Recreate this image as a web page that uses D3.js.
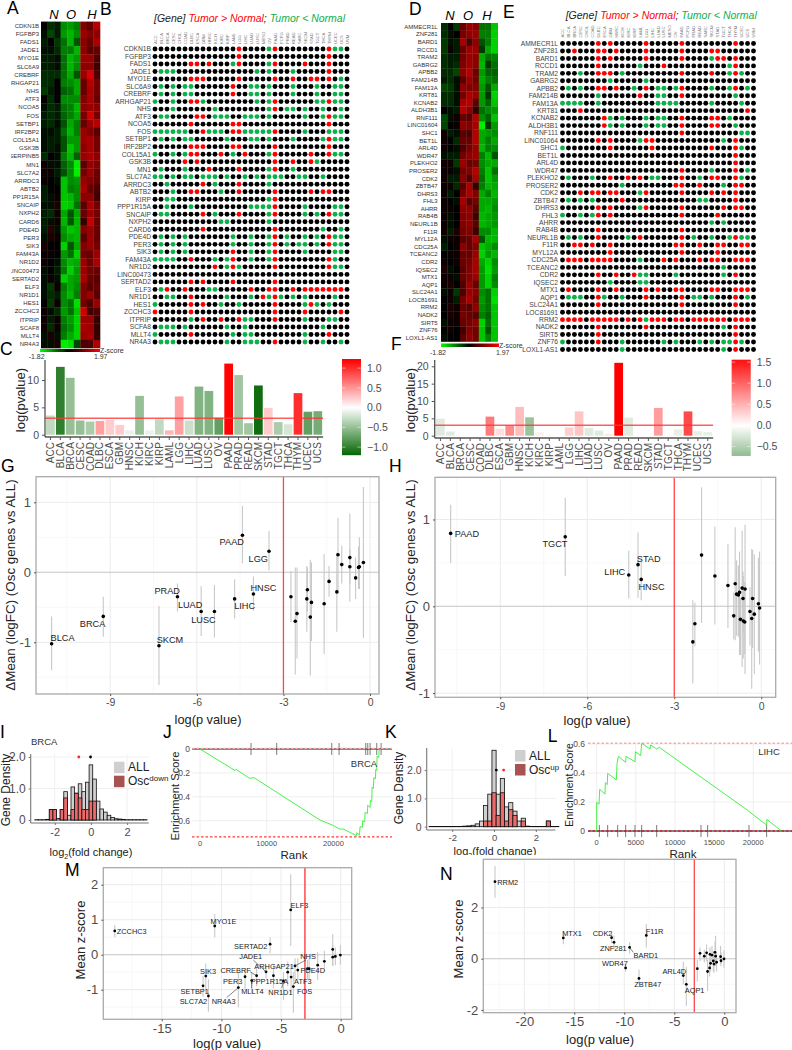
<!DOCTYPE html>
<html><head><meta charset="utf-8">
<script src="https://cdn.jsdelivr.net/npm/d3@7"></script>
<style>
html,body{margin:0;padding:0;background:#fff}
svg{display:block}
text{font-family:"Liberation Sans",Arial,sans-serif}
</style></head><body>
<svg id="c" width="792" height="1050"></svg>
<script>
// ---------- DATA ----------
const genesA=["CDKN1B","FGFBP3","FADS1","JADE1","MYO1E","SLC6A9","CREBRF","ARHGAP21","NHS","ATF3","NCOA5","FOS","SETBP1","IRF2BP2","COL15A1","GSK3B","SERPINB5","MN1","SLC7A2","ARRDC3","ABTB2","PP1R15A","SNCAIP","NXPH2","CARD6","PDE4D","PER3","SIK3","FAM43A","NR1D2","LINC00473","SERTAD2","ELF3","NR1D1","HES1","ZCCHC3","ITPRIP","SCAF8","MLLT4","NR4A3"];
// z-score x10, columns N N N O O O H H H
const heatA=[[0,-3,-2,-10,-11,-9,10,7,14],[-1,-5,-2,-11,-13,-10,12,10,11],[-2,0,-4,-8,-13,-6,11,8,13],[-1,-1,-3,-9,-9,-13,11,7,8],[-2,-2,-1,-8,-13,-11,12,12,6],[-2,-2,-1,-8,-13,-10,11,11,5],[-3,-3,-3,-8,-12,-6,12,17,6],[-3,-3,0,-9,-10,-12,8,14,9],[-4,-2,0,-7,-8,-12,8,13,9],[0,-3,0,-10,-10,-10,10,13,8],[-1,-3,-2,-8,-9,-13,11,12,11],[-2,-3,-2,-7,-9,-12,9,16,9],[-2,-3,-1,-6,-12,-9,8,12,14],[-1,-1,-2,-8,-13,-9,12,10,7],[-1,-2,-2,-6,-11,-11,12,13,9],[-1,-2,-1,-6,-14,-11,11,13,9],[-3,0,-1,-9,-13,-7,12,13,11],[1,-1,-1,-7,-10,-17,7,12,10],[1,1,-2,-6,-10,-17,9,12,8],[1,0,-1,-14,-10,-11,12,10,8],[-2,0,0,-14,-9,-10,13,8,6],[-2,-1,1,-14,-13,-10,11,11,5],[-1,-1,2,-15,-14,-8,7,13,9],[-2,-3,1,-12,-6,-12,8,12,9],[-2,-1,1,-13,-6,-13,4,15,8],[-2,3,-1,-11,-14,-13,10,12,8],[-1,2,1,-10,-12,-13,7,12,8],[2,0,0,-15,-6,-12,10,12,9],[1,1,0,-11,-8,-15,9,8,12],[1,0,-1,-10,-13,-12,12,8,13],[-1,0,-2,-9,-15,-11,12,9,8],[-1,1,-1,-15,-12,-11,13,8,7],[-1,-4,1,-9,-12,-10,10,7,8],[-1,-3,-2,-10,-13,-9,10,12,7],[0,-4,1,-10,-8,-16,9,6,12],[1,-1,-3,-11,-8,-14,16,5,6],[1,-2,1,-9,-11,-15,12,12,4],[1,-3,1,-8,-10,-15,13,12,4],[-1,2,-1,-9,-12,-15,12,13,4],[-1,-1,2,-17,-16,-5,6,6,13]];
const genesD=["AMMECR1L","ZNF281","BARD1","RCCD1","TRAM2","GABRG2","APBB2","FAM214B","FAM13A","KRT81","KCNAB2","ALDH3B1","RNF111","LINC01604","SHC1","BET1L","ARL4D","WDR47","PLEKHO2","PROSER2","CDK2","ZBTB47","DHRS3","FHL3","AHRR","RAB4B","NEURL1B","F11R","MYL12A","CDC25A","TCEANC2","CDR2","IQSEC2","MTX1","AQP1","SLC24A1","LOC81691","RRM2","NADK2","SIRT5","ZNF76","LOXL1-AS1"];
const heatD=[[-3,0,-4,8,12,11,-8,-8,-14],[-3,-1,0,9,11,12,-9,-9,-15],[-4,-1,-2,13,6,11,-6,-9,-15],[-4,1,-2,8,12,12,-4,-12,-15],[-3,-2,-2,9,12,11,-12,-8,-9],[-3,-2,-3,10,12,11,-13,-4,-8],[-3,-3,-5,11,14,8,-11,-7,-7],[-2,-3,-1,7,12,9,-12,-9,-8],[-5,-4,-1,11,10,10,-11,-6,-12],[-3,-3,-1,9,13,12,-11,-4,-15],[-3,-3,-1,13,14,7,-11,-7,-14],[0,-1,-2,14,11,4,-8,-10,-11],[-5,-1,1,8,7,14,-10,-7,-14],[-5,0,1,11,10,13,-17,-4,-11],[1,-2,-1,7,6,14,-12,-11,-10],[1,0,-3,8,8,14,-12,-9,-12],[1,0,-1,6,9,12,-13,-9,-10],[-1,-2,-2,9,11,12,-9,-13,-6],[1,1,-4,12,8,9,-10,-12,-12],[1,1,-1,9,10,14,-9,-14,-8],[1,-2,-2,11,6,13,-8,-14,-11],[1,1,-3,7,13,4,-9,-13,-12],[1,-2,0,9,13,10,-12,-9,-13],[1,0,-1,13,7,9,-12,-12,-11],[1,1,0,11,11,7,-12,-13,-10],[1,-1,0,10,11,5,-13,-12,-11],[1,-1,0,10,11,7,-13,-12,-11],[1,-2,2,9,10,5,-10,-10,-13],[-1,1,1,7,8,13,-6,-13,-13],[-2,0,1,11,8,10,-14,-12,-10],[0,1,1,8,8,12,-15,-11,-13],[1,0,1,8,9,13,-12,-15,-10],[2,-1,0,7,10,13,-11,-16,-11],[1,1,-1,8,10,12,-11,-15,-9],[1,2,0,6,12,8,-11,-15,-10],[-1,1,-4,6,12,11,-10,-8,-15],[0,1,-2,9,13,9,-11,-8,-16],[0,2,1,8,7,11,-10,-8,-14],[0,2,1,9,8,7,-9,-7,-14],[-1,1,1,8,9,11,-15,-8,-14],[0,1,0,5,10,9,-14,-6,-14],[-1,0,0,7,11,9,-14,-9,-14]];
const dotCols=["ACC","BLCA","BRCA","CESC","CHOL","COAD","DLBC","ESCA","GBM","HNSC","KICH","KIRC","KIRP","LAML","LGG","LIHC","LUAD","LUSC","MESO","OV","PAAD","PCPG","PRAD","READ","SARC","SKCM","STAD","TGCT","THCA","THYM","UCEC","UCS","UVM"];
const dotGenesB=["CDKN1B","FGFBP3","FADS1","JADE1","MYO1E","SLC6A9","CREBRF","ARHGAP21","NHS","ATF3","NCOA5","FOS","SETBP1","IRF2BP2","COL15A1","GSK3B","MN1","SLC7A2","ARRDC3","ABTB2","KIRP","PPP1R15A","SNCAIP","NXPH2","CARD6","PDE4D","PER3","SIK3","FAM43A","NR1D2","LINC00473","SERTAD2","ELF3","NR1D1","HES1","ZCCHC3","ITPRIP","SCFA8","MLLT4","NR4A3"];
const redB=[[14,20,29],[14,29],[6,7,9,14,20,25,29],[29],[6,7,8,14,20,23,26,27,29],[13],[13],[6,7,20,29],[20],[7,8,29],[6,13,14,29],[8,13,14,20],[29],[6,7,8,13,14,20,29],[6,7,11,15,20,26,29],[5,7,20,23,26],[9,14,20],[],[8,14],[6,7,14,20,26,28,29],[20],[20],[8,14,20,29],[],[8,20],[20,29],[20,29],[13,20],[6,13,20,29],[10,13,20,29],[],[6,8,13,20],[2,5,16,19,20,23,25,26,27,28,29,30,31],[6,18,20],[6,8,20,26],[0,6,20,25,31],[8,11,14,20],[],[6,29],[20]];
const greenB=[[19,30,31],[],[13,19],[1,2,3,17,19,23],[31],[1,3,5,6,16,17,19,23,27,30,31],[1,3,5,6,16,17,19,23,27,30,31],[0,3,8,17,19,27,28,30,31],[3,10,19,22,23,25,28,31],[1,2,10,11,12,15,16,17,19,25,28,30,31],[],[0,1,2,3,4,5,9,10,11,15,16,17,18,19,25,29,30,31],[1,3,5,6,12,16,17,19,23,28,30,31],[],[0,3,5,13,19,30,31],[27],[1,5,19,23],[0,1,3,5,6,8,9,10,12,15,17,19,20,21,24,25,28],[2,10,19],[3,11],[2,3,19],[2,6,16,17,18,19,25,30,31],[1,2,10,19,25,27,30,31],[11,12,19],[28,31],[1,3,5,13,16,19,22,25,27,30,31],[1,3,5,13,16,19,22,24,25,27,30,31],[1,3,5,16,19,25,30,31],[0,1,2,3,10,12,16,19,30],[12,14,30,31],[],[],[1,9,10],[2,3,12,16,19,21,23,25,30],[0,11,14,25,27,29],[],[6,15,16,25,29,30],[1,2,3,5,12,15,28],[0,13,15,16,25],[1,2,3,12,15,16,17,25,28,31]];
const dotGenesE=genesD.map(g=>g==="LINC01604"?"LINC01064":g);
const redE=[[6,8,14,20,29],[2,6,7,9,14,20,25,26],[6,8,14,20,26,27,29],[6,17,29],[6,7,8,20,25,29],[],[6,7,9,14,20,29],[13,20],[],[3,31],[7,20,25,26],[7,20,25,26],[20],[6,8,14,15,29],[8,15,25,29],[29],[29],[20,29],[8,11,13,20,25,26,29],[19,20,23,29,30],[3,5,6,8,9,14,20,25,27,29],[10,29],[6,8,14,20,27,29,30],[6,8,20,26],[],[6,20],[6,13,20,29],[2,3,5,8,19,20,23,26,27,30,31],[8,20,26],[1,2,3,5,6,7,8,17,19,23,25,26,29,30,31],[],[6,9,12,29],[],[1,6,9,14,16,19,20,25,26,29,30,31],[6,14,20,29],[6,20,29],[],[0,1,2,3,5,6,7,8,9,11,13,15,16,17,19,20,22,23,24,25,26,27,29,30,31],[6,14,29],[6,29],[6,29],[29]];
const greenE=[[],[],[25],[13,28],[3,10,28,30],[8,14],[1,3,12,16,17,19,25,28,31],[6,16,17,29],[0,1,2,3,6,16,17,18,19,25,30],[],[8,10,14,16,17,28],[8,10,14,16,17,29],[30,31],[13,27],[0,30],[],[],[25,31],[1,5,15,16,23,30],[10,27],[13],[1,3,5,23,24],[13],[0,3,5],[25,27],[],[1,3,11,22,25,28,30,31],[],[],[13],[27],[13,14,19,27],[8,13,14],[],[1,2,3,7,10,22,23,25,31],[],[],[14],[27],[],[0,10,17,19,23,25,27,28,30],[10,27]];

const barCats=["ACC","BLCA","BRCA","CESC","COAD","DLBC","ESCA","GBM","HNSC","KICH","KIRC","KIRP","LAML","LGG","LIHC","LUAD","LUSC","OV","PAAD","PRAD","READ","SKCM","STAD","TGCT","THCA","THYM","UCEC","UCS"];
const barC=[3.5,12.4,10.4,2.6,2.4,2.5,2.7,1.8,.8,7.1,.8,2.8,.8,7,2.6,8.8,8,3.1,13,10.9,2.1,9,4.9,2.3,1.9,7.6,4.2,4.3];
const fillC=[-.3,-1,-.5,-.5,-.4,.45,.25,.25,-.1,-.5,-.1,-.3,.35,.45,-.25,-.6,-.6,-.75,1.2,-.45,-.45,-1.15,.25,-.4,-.2,1,-.75,-.65];
const barF=[4.9,1.2,.3,.2,.2,5.5,2,3,8.3,5.3,1,.3,.2,2.4,7,2.2,1.5,.5,21,5.2,.2,.2,8,.3,1.8,7,1.3,1.1];
const fillF=[-.2,-.2,.05,0,0,.8,.2,.7,.4,-.6,.1,.05,0,.3,.35,-.2,-.2,.15,1.55,-.2,.05,0,.6,.05,-.15,1.1,-.15,-.15];

// name, log p, mean, low, high
const rowsG=[["BLCA",-11.03,-1.02,-1.40,-.63],["BRCA",-9.24,-.63,-.92,-.35],["SKCM",-7.31,-1.05,-1.61,-.48],["PRAD",-6.67,-.35,-.56,-.16],["LUAD",-5.85,-.56,-.91,-.20],["LUSC",-5.39,-.56,-.93,-.18],["LIHC",-4.69,-.38,-.66,-.10],["PAAD",-4.42,.53,.13,.95],["HNSC",-4.04,-.31,-.55,-.06],["LGG",-3.5,.30,.03,.59],["",-2.74,-.35,-.71,.02],["",-2.59,-.70,-1.46,.07],["",-2.53,-.59,-1.23,.07],["",-2.19,-.38,-.85,.09],["",-2.17,-.25,-.56,.07],["",-2.07,-.64,-1.48,.18],["",-2.03,-.43,-.98,.14],["",-1.59,-.45,-1.17,.26],["",-1.42,-.13,-.35,.09],["",-1.15,-.28,-.85,.28],["",-1.11,.25,-.30,.78],["",-.98,.11,-.16,.38],["",-.70,.08,-.42,.33],["",-.70,.21,-.17,.84],["",-.50,-.08,-.38,.21],["",-.40,.07,-.24,.37],["",-.37,.08,-.24,.50],["",-.23,.14,-.94,1.22]];
const rowsH=[["PAAD",-10.71,.84,.50,1.17],["TGCT",-6.76,.80,.35,1.25],["LIHC",-4.57,.36,.09,.64],["STAD",-4.25,.48,.10,.85],["HNSC",-4.14,.31,.07,.56],["",-2.36,-.41,-.89,.07],["",-2.29,-.20,-.46,.04],["",-2.06,.59,-.19,1.37],["",-1.60,.35,-.21,.92],["",-1.15,.24,-.25,.72],["",-.95,-.11,-.38,.16],["",-.90,.26,-.39,.91],["",-.85,.14,-.34,.53],["",-.79,.13,-.35,.47],["",-.75,.16,-.56,.63],["",-.72,-.15,-.56,.1],["",-.66,.21,-.70,.87],["",-.63,.09,-.3,.4],["",-.62,-.17,-.6,.35],["",-.56,.20,-.78,.94],["",-.57,-.18,-.55,.28],["",-.39,-.06,-.45,.22],["",-.33,-.14,-.95,.66],["",-.30,.09,-.48,.65],["",-.24,-.09,-.78,.6],["",-.10,.03,-.52,.56],["",-.06,-.02,-.67,.63]];
const rowsM=[["ZCCHC3",-18.94,.68,.50,.85],["MYO1E",-10.56,.82,.49,1.16],["SERTAD2",-5.92,.30,.04,.50],["ELF3",-4.19,1.28,.25,2.3],["JADE1",-6.26,-.49,-.68,-.3],["ARHGAP21",-4.44,-.50,-.9,-.2],["NHS",-3.83,-.32,-.75,-.1],["PDE4D",-2.79,-.40,-.7,-.15],["",-3.6,-.44,-.7,-.1],["SIK3",-11.31,-.61,-1.1,-.25],["PER3",-8.02,-.63,-1,-.4],["CREBRF",-7.05,-.60,-.9,-.35],["MLLT4",-7.46,-.74,-1.1,-.5],["PPP1R15A",-5.64,-.60,-.95,-.3],["ATF3",-4.16,-.64,-1.1,-.3],["NR1D1",-4.8,-.75,-1.3,-.5],["FOS",-3.97,-.91,-1.66,-.5],["SLC7A2",-11.09,-1.18,-1.63,-.7],["SETBP1",-11.54,-.89,-1.2,-.6],["NR4A3",-8.58,-.94,-1.5,-.5],["",-2.65,-.40,-.7,-.1],["",-1.93,-.30,-.72,.08],["",-1.37,-.19,-.49,.11],["",-.67,.15,-.32,.59],["",-.67,-.07,-.32,.28],["",-.45,-.05,-.3,.2],["",-.03,-.01,-.29,.28]];
const rowsN=[["RRM2",-22.93,3.01,2.38,3.62],["MTX1",-16.1,.81,.56,1.06],["CDK2",-11.27,.82,.6,1],["ZNF281",-11.03,.64,.4,.9],["BARD1",-9.47,.44,.2,.64],["F11R",-7.8,.91,.44,1.36],["WDR47",-9.87,-.36,-.5,-.2],["ZBTB47",-8.53,-.77,-1,-.42],["ARL4D",-4.1,-.66,-1,-.12],["AQP1",-3.8,-1,-1.85,-.31],["",-2.7,-.39,-.9,-.05],["",-2.43,.21,-.1,.44],["",-2,.1,-.15,.35],["",-1.77,.23,-.1,.55],["",-1.67,-.5,-1.26,-.05],["",-1.47,-.36,-.7,0],["",-1.43,.17,-.1,.45],["",-1.37,-.18,-.5,.15],["",-1.23,.14,-.15,.5],["",-1.1,-.09,-.5,.3],["",-1.03,-.21,-.55,.15],["",-.93,.25,-.1,.66],["",-.87,.1,-.3,.9],["",-.77,-.14,-.5,.2],["",-.37,.08,-.2,.5],["",-.33,-.08,-.3,.25],["",-.03,-.01,-.35,.33]];

const histBins=[-3,-2.8,-2.6,-2.4,-2.2,-2,-1.8,-1.6,-1.4,-1.2,-1,-.8,-.6,-.4,-.2,0,.2,.4,.6,.8,1,1.2,1.4,1.6,1.8,2,2.2,2.4,2.6,2.8,3];
const histIAll=[.01,.01,.01,.02,.33,.33,.05,.33,.9,.15,1.05,.85,1.15,.9,1.2,1.75,1.3,.6,.35,.25,.15,.08,.04,.03,.02,.01,.01,.01,.01,.01,.01];
const histIOsc=[0,0,0,0,.33,.33,0,.33,.7,0,.33,.85,.7,.33,.33,.6,.6,0,0,0,0,0,0,0,0,0,0,0,0,0,0];
const histKAll=[.01,.01,.01,.01,.01,.01,.01,.01,.02,.03,.05,.1,.2,.75,1.15,2.7,1.15,1.7,.7,.85,.55,.2,.3,.02,.01,.01,.01,.01,.2,.01,.01];
const histKOsc=[0,0,0,0,0,0,0,0,0,0,0,0,0,.2,.2,1.2,.4,1.2,.2,.6,.4,0,.2,0,0,0,0,0,.2,0,0];

// rank, enrichment score
const gseaJ=[[0,0],[5250,.18],[5400,.17],[7400,.245],[8100,.24],[18000,.595],[20000,.64],[20900,.67],[21500,.67],[23450,.725],[23500,.70],[23900,.72],[24000,.65],[24350,.655],[24400,.60],[24700,.61],[24750,.53],[25100,.54],[25150,.47],[25500,.49],[25550,.43],[25750,.44],[25800,.32],[26000,.33],[26050,.24],[26300,.25],[26350,.17],[26500,.18],[26550,.06],[26800,.07],[26850,.01],[27200,0]];
const rugJ=[7650,11500,19750,20850,24850,25150,25500,26500,27150];
const gseaL=[[0,0],[0,.198],[300,.184],[380,.287],[1060,.255],[1100,.333],[1350,.32],[1400,.398],[2510,.352],[2600,.467],[2770,.515],[3700,.474],[3740,.515],[4890,.478],[4940,.547],[5620,.52],[5740,.605],[6810,.566],[6890,.593],[7660,.566],[8000,.577],[10850,.467],[19360,.14],[19500,.132],[21700,.041],[21740,.08],[23600,0]];
const rugL=[340,1400,2680,3700,4890,5740,7660,13320,14170,19450,21700];

// ---------- DRAWING ----------
const svg=d3.select("#c");
const TXT="#4d4d4d";
function txt(x,y,s,o={}){const t=svg.append("text").attr("x",x).attr("y",y).text(s)
 .attr("font-size",o.fs||10).attr("fill",o.fill||"#000").attr("text-anchor",o.anchor||"start");
 if(o.italic)t.attr("font-style","italic");
 if(o.rot)t.attr("transform",`rotate(${o.rot} ${x} ${y})`);
 if(o.central)t.attr("dy",".35em");
 return t;}
[["A",7,14],["B",100,14.5],["C",0,355],["D",409,15],["E",503,18],["F",391,350],["G",1,472],["H",389,472],["I",0,738],["J",163,738],["K",385,738],["L",547.7,741.5],["M",65,876],["N",440,880]]
 .forEach(d=>txt(d[1],d[2],d[0],{fs:17.5}));

const heatColor=d3.scaleLinear().domain([-1.82,0,1.97]).range(["#00ff00","#000000","#ff0000"]);
function heat(genes,vals,x0,x1,y0,y1,labelX,nohX,nohY,clipL){
 const x=d3.scaleBand().domain(d3.range(9)).range([x0,x1]);
 const y=d3.scaleBand().domain(genes).range([y0,y1]);
 const g=svg.append("g");
 genes.forEach((gene,r)=>vals[r].forEach((v,c)=>g.append("rect").attr("x",x(c)).attr("y",y(gene))
   .attr("width",x.bandwidth()+.3).attr("height",y.bandwidth()+.3).attr("fill",heatColor(v/10))));
 const id="clip"+x0;
 svg.append("clipPath").attr("id",id).append("rect").attr("x",clipL).attr("y",0).attr("width",labelX-clipL+2).attr("height",400);
 const lg=svg.append("g").attr("clip-path",`url(#${id})`);
 genes.forEach(gene=>lg.append("text").attr("x",labelX).attr("y",y(gene)+y.bandwidth()/2).attr("dy",".35em")
   .attr("text-anchor","end").attr("font-size",6).attr("fill","#333").text(gene));
 ["N","O","H"].forEach((s,i)=>txt(nohX[i],nohY,s,{fs:13,italic:1,anchor:"middle",central:1}));
}
heat(genesA,heatA,41,100,21.6,348,39,[54,71,92],14,11);
heat(genesD,heatD,441,497.7,23,341.5,437.7,[450,468,487],15,400);

function colorbar(id,x0,x1,y0,y1,labY,lab0x,lab1x){
 const gr=svg.append("defs").append("linearGradient").attr("id",id);
 [[-1.82,0],[0,.48],[1.97,1]].forEach(s=>gr.append("stop").attr("offset",s[1]).attr("stop-color",heatColor(s[0])));
 svg.append("rect").attr("x",x0).attr("y",y0).attr("width",x1-x0).attr("height",y1-y0).attr("fill",`url(#${id})`);
 txt(x1,(y0+y1)/2,"Z-score",{fs:7,fill:"#333",central:1});
 txt(lab0x,labY,"-1.82",{fs:7,fill:"#333",anchor:"middle",central:1});
 txt(lab1x,labY,"1.97",{fs:7,fill:"#333",anchor:"middle",central:1});
}
colorbar("cbA",40,100,349,352,356.5,36.7,100.7);
colorbar("cbD",441,499,343.5,347,352.6,438,502.7);

function dots(genes,red,green,x0,x1,y0,y1,labelX,colBottom){
 const x=d3.scalePoint().domain(d3.range(33)).range([x0,x1]);
 const y=d3.scalePoint().domain(genes).range([y0,y1]);
 const g=svg.append("g");
 genes.forEach((gene,r)=>{
  d3.range(33).forEach(c=>{
   const col=red[r].includes(c)?"#ff0000":green[r].includes(c)?"#0db14b":"#000";
   g.append("circle").attr("cx",x(c)).attr("cy",y(gene)).attr("r",2.45).attr("fill",col);
  });
  g.append("text").attr("x",labelX).attr("y",y(gene)).attr("dy",".35em").attr("text-anchor","end")
   .attr("font-size",6.7).attr("fill","#444").text(gene);
 });
 dotCols.forEach((s,c)=>g.append("text").attr("transform",`translate(${x(c)+1.5},${colBottom}) rotate(-90)`)
   .attr("font-size",4.2).attr("fill","#777").text(s));
}
dots(dotGenesB,redB,greenB,155,347,49,342,151,44);
dots(dotGenesE,redE,greenE,562.5,753.5,43.5,349.5,558,37.5);

function header(x,y){
 const t=svg.append("text").attr("x",x).attr("y",y).attr("font-size",10.5).attr("font-style","italic").attr("dy",".35em");
 t.append("tspan").attr("fill","#222").text("[Gene] ");
 t.append("tspan").attr("fill","#ff0000").text("Tumor > Normal");
 t.append("tspan").attr("fill","#222").text("; ");
 t.append("tspan").attr("fill","#0db14b").text("Tumor < Normal");
}
header(154,18);header(565.7,15);

function bars(vals,fills,o){
 const x=d3.scaleBand().domain(barCats).range([o.cx0-o.step/2,o.cx0+o.step*27.5]).paddingInner(.12);
 const y=d3.scaleLinear().domain([0,o.ymax]).range([o.y0,o.y0-o.pxPer*o.ymax]);
 const c=d3.scaleLinear().domain([-o.cmax,0,o.cmax]).range(["#006400","#ffffff","#ff0000"]).clamp(true);
 const g=svg.append("g");
 barCats.forEach((k,i)=>g.append("rect").attr("x",x(k)).attr("y",y(vals[i])).attr("width",x.bandwidth())
   .attr("height",y(0)-y(vals[i])).attr("fill",c(fills[i])));
 g.append("line").attr("x1",o.axX).attr("x2",x.range()[1]+1).attr("y1",y(3)).attr("y2",y(3)).attr("stroke","#ff3333").attr("stroke-opacity",.8).attr("stroke-width",1.4);
 const ay=svg.append("g").attr("transform",`translate(${o.axX},0)`).call(d3.axisLeft(y).tickValues(o.ticks).tickSize(3).tickFormat(String));
 ay.select(".domain").attr("d",`M0,${o.axB}V${o.axT}`).attr("stroke","#555").attr("stroke-width",1.3);
 ay.selectAll(".tick line").attr("stroke","#555");
 ay.selectAll("text").attr("font-size",10.5).attr("fill",TXT).attr("font-family","Liberation Sans");
 const ax=svg.append("g").attr("transform",`translate(0,${o.axB})`).call(d3.axisBottom(x).tickSize(3));
 ax.select(".domain").attr("d",`M${o.axX},0H${x.range()[1]+1}`).attr("stroke","#555").attr("stroke-width",1.3);
 ax.selectAll(".tick line").attr("stroke","#555");
 ax.selectAll("text").attr("font-size",10).attr("fill",TXT).attr("font-family","Liberation Sans")
   .attr("text-anchor","end").attr("transform","rotate(-90)").attr("x",-5).attr("y",0).attr("dy",".35em");
 txt(o.titleX,o.titleY,"log(pvalue)",{fs:13,anchor:"middle",rot:-90,fill:"#222",central:1});
 // legend
 const ly=d3.scaleLinear().domain(o.legDom).range([o.legB,o.legT]);
 d3.range(o.legB,o.legT,-1).forEach(py=>svg.append("rect").attr("x",o.legX).attr("y",py-1).attr("width",19).attr("height",1.2).attr("fill",c(ly.invert(py-.5))));
 o.legTicks.forEach(v=>{
  txt(o.legX+25,ly(v),d3.format(".1f")(v),{fs:10.5,fill:TXT,central:1});
  svg.append("line").attr("x1",o.legX).attr("x2",o.legX+3.5).attr("y1",ly(v)).attr("y2",ly(v)).attr("stroke","#fff").attr("stroke-width",.5);
  svg.append("line").attr("x1",o.legX+15.5).attr("x2",o.legX+19).attr("y1",ly(v)).attr("y2",ly(v)).attr("stroke","#fff").attr("stroke-width",.5);
 });
}
bars(barC,fillC,{cx0:51,step:9.86,y0:434.7,pxPer:5.47,ymax:13.5,ticks:[0,5,10],axX:45,axB:437,axT:360,cmax:1.22,titleX:20,titleY:400,
 legX:342,legT:359,legB:455,legDom:[-1.2,1.23],legTicks:[1,.5,0,-.5,-1]});
bars(barF,fillF,{cx0:441,step:9.86,y0:435.7,pxPer:3.47,ymax:21,ticks:[0,5,10,15,20],axX:434.7,axB:438,axT:360,cmax:1.55,titleX:410,titleY:400,
 legX:731.7,legT:360,legB:455.7,legDom:[-.72,1.55],legTicks:[1.5,1,.5,0,-.5]});

function scatter(rows,o){
 const x=d3.scaleLinear().domain(o.xd).range([o.l,o.r]);
 const y=d3.scaleLinear().domain(o.yd).range([o.b,o.t]);
 const g=svg.append("g");
 o.xMinor.forEach(v=>g.append("line").attr("x1",x(v)).attr("x2",x(v)).attr("y1",o.t).attr("y2",o.b).attr("stroke","#f3f3f3").attr("stroke-width",.6));
 o.yMinor.forEach(v=>g.append("line").attr("x1",o.l).attr("x2",o.r).attr("y1",y(v)).attr("y2",y(v)).attr("stroke","#f3f3f3").attr("stroke-width",.6));
 o.xt.forEach(v=>g.append("line").attr("x1",x(v)).attr("x2",x(v)).attr("y1",o.t).attr("y2",o.b).attr("stroke","#ebebeb"));
 o.yt.forEach(v=>g.append("line").attr("x1",o.l).attr("x2",o.r).attr("y1",y(v)).attr("y2",y(v)).attr("stroke",v===0?"#c4c4c4":"#ebebeb").attr("stroke-width",v===0?1.1:1));
 rows.forEach(r=>g.append("line").attr("x1",x(r[1])).attr("x2",x(r[1])).attr("y1",y(r[3])).attr("y2",y(r[4])).attr("stroke","#c8c8c8").attr("stroke-width",1.1));
 g.append("line").attr("class","pline").attr("x1",x(-3)).attr("x2",x(-3)).attr("y1",o.t).attr("y2",o.b).attr("stroke","#ff4848").attr("stroke-width",o.redW||1.3);
 rows.forEach(r=>{
  g.append("circle").attr("cx",x(r[1])).attr("cy",y(r[2])).attr("r",o.r0||1.8).attr("fill","#000");
  const p=o.place[r[0]];
  if(p){
   if(p[2]!==undefined)g.append("line").attr("x1",x(r[1])).attr("y1",y(r[2])).attr("x2",x(r[1])+p[2]).attr("y2",y(r[2])+p[3]).attr("stroke","#333").attr("stroke-width",.6);
   g.append("text").attr("x",x(r[1])+p[0]).attr("y",y(r[2])+p[1]).attr("dy",".35em").attr("text-anchor","middle").attr("font-size",o.lfs).attr("fill","#222").text(r[0]);
  }
 });
 g.append("rect").attr("x",o.l).attr("y",o.t).attr("width",o.r-o.l).attr("height",o.b-o.t).attr("fill","none").attr("stroke","#aaa").attr("stroke-width",1.3);
 const ax=svg.append("g").attr("transform",`translate(0,${o.b})`).call(d3.axisBottom(x).tickValues(o.xt).tickSize(2).tickPadding(o.xPad).tickFormat(String));
 ax.select(".domain").remove();ax.selectAll("line").attr("stroke","#555");
 ax.selectAll("text").attr("font-size",o.xfs).attr("fill",TXT).attr("font-family","Liberation Sans");
 const ay=svg.append("g").attr("transform",`translate(${o.l},0)`).call(d3.axisLeft(y).tickValues(o.yt).tickSize(2).tickFormat(String));
 ay.select(".domain").remove();ay.selectAll("line").attr("stroke","#555");
 ay.selectAll("text").attr("font-size",o.yfs).attr("fill",TXT).attr("font-family","Liberation Sans");
 txt(o.xTitle[0],o.xTitle[1],"log(p value)",{fs:o.tfs,anchor:"middle",fill:"#222",central:1});
 txt(o.yTitle[0],o.yTitle[1],o.yLabel,{fs:o.ytfs||o.tfs,anchor:"middle",rot:-90,fill:"#222",central:1});
}
const DM="\u0394Mean (logFC) (Osc genes vs ALL)";
scatter(rowsG,{xd:[-11.57,.31],yd:[-1.739,1.366],l:36,r:379,t:476.7,b:694,xt:[-9,-6,-3,0],yt:[-1,0,1],
 xMinor:[-10.5,-7.5,-4.5,-1.5],yMinor:[-1.5,-.5,.5],lfs:9.2,xfs:10.5,yfs:13,xPad:3,tfs:12.8,ytfs:13.4,xTitle:[208,720],yTitle:[10,585],yLabel:DM,
 place:{BLCA:[11,-6.3],BRCA:[-10.7,7.3],SKCM:[11,-6.3],PRAD:[-10.3,-6.3],LUAD:[-11,-6.3],LUSC:[-11,8],LIHC:[10,7],PAAD:[-10.7,7],HNSC:[10,-6.7],LGG:[-10.7,7.3]}});
scatter(rowsH,{xd:[-11.25,.497],yd:[-1.048,1.486],l:435,r:775.7,t:477.3,b:697.3,xt:[-9,-6,-3,0],yt:[-1,0,1],
 xMinor:[-10.5,-7.5,-4.5,-1.5],yMinor:[-.5,.5],lfs:9.2,xfs:10.5,yfs:13,xPad:3,tfs:12.8,ytfs:13.4,xTitle:[597,721],yTitle:[410,585],yLabel:DM,
 place:{PAAD:[16.3,.7],TGCT:[-10.3,7.3],LIHC:[-14,-3.3],STAD:[10.7,-6],HNSC:[10.3,7.3]}});
scatter(rowsM,{xd:[-19.9,.92],yd:[-1.846,2.486],l:103.3,r:351.7,t:867.7,b:1019.3,xt:[-15,-10,-5,0],yt:[-1,0,1,2],
 xMinor:[-17.5,-12.5,-7.5,-2.5],yMinor:[-1.5,-.5,.5,1.5],lfs:7.4,xfs:13,yfs:13,xPad:2,tfs:13,xTitle:[227,1043],yTitle:[80,940],yLabel:"Mean z-score",r0:1.4,redW:1.5,
 place:{ZCCHC3:[17,.7],MYO1E:[8.7,-4.7],SERTAD2:[-19.3,2.3],ELF3:[8.7,-4.7],JADE1:[-15.3,-15,-12.7,-11.7],ARHGAP21:[-13.7,-5.7],NHS:[13,-9,11,-6],PDE4D:[5.3,1.7],SIK3:[2.3,-5],PER3:[-12.3,4.7],CREBRF:[-21,-5,-6.7,-4],MLLT4:[.7,10.7,0,7.7],PPP1R15A:[-4,5.7],ATF3:[11.7,4.7],NR1D1:[-3,11,-1.7,7.3],FOS:[11.3,5.3],SLC7A2:[-15,5.3],SETBP1:[-8.3,5.7],NR4A3:[-14.7,13.7,-11.7,10]}});
scatter(rowsN,{xd:[-24.1,1.17],yd:[-2.11,3.883],l:483.3,r:736,t:859.3,b:1012.7,xt:[-20,-15,-10,-5,0],yt:[-2,0,2],
 xMinor:[-22.5,-17.5,-12.5,-7.5,-2.5],yMinor:[-1,1,3],lfs:7.4,xfs:13,yfs:13,xPad:2,tfs:13,xTitle:[600,1039],yTitle:[458,939],yLabel:"Mean z-score",r0:1.4,
 place:{RRM2:[12.7,.3],MTX1:[8.7,-4.7],CDK2:[-9,-4],ZNF281:[-.7,6],BARD1:[16.3,7.7,3.7,5],F11R:[8.3,-4.3],WDR47:[-10.7,-4.7],ZBTB47:[8.7,5.7],ARL4D:[-9,-4.3],AQP1:[8.3,6]}});

function hist(all,osc,o){
 const x=d3.scaleLinear().domain(o.xd).range(o.xr);
 const y=d3.scaleLinear().domain([0,o.ymax]).range([o.y0,o.y0-o.pxPer*o.ymax]);
 const g=svg.append("g");
 o.xt.forEach(v=>g.append("line").attr("x1",x(v)).attr("x2",x(v)).attr("y1",o.top).attr("y2",o.axB).attr("stroke","#f0f0f0"));
 o.yt.forEach(v=>g.append("line").attr("x1",o.axL).attr("x2",o.xr[1]).attr("y1",y(v)).attr("y2",y(v)).attr("stroke","#f0f0f0"));
 const w=x(.2)-x(0);
 histBins.forEach((b,i)=>g.append("rect").attr("x",x(b)-w/2).attr("y",y(all[i])).attr("width",w).attr("height",y(0)-y(all[i])).attr("fill","#cfcfcf").attr("stroke","#111").attr("stroke-width",.8));
 histBins.forEach((b,i)=>{if(osc[i]>0)g.append("rect").attr("x",x(b)-w/2).attr("y",y(osc[i])).attr("width",w).attr("height",y(0)-y(osc[i])).attr("fill","#ee6a6a").attr("stroke","#111").attr("stroke-width",.8);});
 o.marks.forEach(m=>g.append("circle").attr("cx",x(m[0])).attr("cy",y(m[1])).attr("r",1.4).attr("fill",m[2]));
 const ax=svg.append("g").attr("transform",`translate(0,${o.axB})`).call(d3.axisBottom(x).tickValues(o.xt).tickSize(2).tickPadding(o.xPad).tickFormat(String));
 ax.select(".domain").attr("d",`M${o.axL},0H${o.xr[1]}`).attr("stroke","#777").attr("stroke-width",1.1);ax.selectAll("line").attr("stroke","#777");
 ax.selectAll("text").attr("font-size",o.xfs).attr("fill",TXT).attr("font-family","Liberation Sans");
 const ay=svg.append("g").attr("transform",`translate(${o.axL},0)`).call(d3.axisLeft(y).tickValues(o.yt).tickSize(2).tickFormat(v=>v===0?"0":d3.format(".1f")(v)));
 ay.select(".domain").attr("d",`M0,${o.axB}V${o.top}`).attr("stroke","#777").attr("stroke-width",1.1);ay.selectAll("line").attr("stroke","#777");
 ay.selectAll("text").attr("font-size",o.yfs).attr("fill",TXT).attr("font-family","Liberation Sans");
 txt(o.yTitle[0],o.yTitle[1],"Gene Density",{fs:12,anchor:"middle",rot:-90,fill:"#222",central:1});
 // x title with subscript
 const cl="hclip"+o.axL;
 svg.append("clipPath").attr("id",cl).append("rect").attr("x",o.xTitle[0]-70).attr("y",o.xTitle[1]-10).attr("width",140).attr("height",o.xClipH);
 const t=svg.append("text").attr("clip-path",`url(#${cl})`).attr("x",o.xTitle[0]).attr("y",o.xTitle[1]).attr("dy",".35em").attr("text-anchor","middle").attr("font-size",11).attr("fill","#222");
 t.append("tspan").text("log");t.append("tspan").attr("font-size",7).attr("dy",3).text("2");t.append("tspan").attr("dy",-3).text("(fold change)");
 // legend
 svg.append("rect").attr("x",o.legX).attr("y",o.legY).attr("width",10.5).attr("height",11.5).attr("fill","#cfcfcf");
 svg.append("rect").attr("x",o.legX).attr("y",o.legY+14).attr("width",10.5).attr("height",11.5).attr("fill","#a85252");
 txt(o.legX+14,o.legY+5.5,"ALL",{fs:12,fill:"#222",central:1});
 const l=svg.append("text").attr("x",o.legX+14).attr("y",o.legY+19.5).attr("dy",".35em").attr("font-size",12).attr("fill","#222");
 l.append("tspan").text("Osc");l.append("tspan").attr("font-size",8).attr("dy",-4).text(o.sup);
}
hist(histIAll,histIOsc,{xd:[-3.35,3.2],xr:[30.3,148.8],ymax:2.1,y0:820,pxPer:31.5,xt:[-2,0,2],yt:[0,1,2],axL:30.7,axB:823,top:754,xPad:3,xfs:11,yfs:12,
 marks:[[-.67,2,"#ff2222"],[-.02,2,"#000"]],yTitle:[6,790],xTitle:[91,852],xClipH:20,legX:114,legY:761.7,sup:"down"});
hist(histKAll,histKOsc,{xd:[-3.22,2.94],xr:[426.7,555.5],ymax:2.85,y0:826.7,pxPer:28.3,xt:[-2,0,2],yt:[0,1,2],axL:426.7,axB:830,top:748,xPad:2,xfs:9.5,yfs:10.5,
 marks:[[.11,2,"#000"],[.46,2,"#ff2222"]],yTitle:[399,788],xTitle:[495,851.5],xClipH:13.5,legX:515,legY:750,sup:"up"});
txt(31,742,"BRCA",{fs:9.5,fill:"#333",central:1});

function gsea(data,rug,o){
 const x=d3.scaleLinear().domain([0,1000]).range([o.x0,o.x0+o.pxK]);
 const y=d3.scaleLinear().domain([0,1]).range([o.y0,o.y0+o.pxU]);
 const g=svg.append("g");
 o.xt.forEach(v=>g.append("line").attr("x1",x(v)).attr("x2",x(v)).attr("y1",o.gt).attr("y2",o.gb).attr("stroke","#eeeeee"));
 o.yt.forEach(v=>g.append("line").attr("x1",o.lineL).attr("x2",o.lineR).attr("y1",y(v)).attr("y2",y(v)).attr("stroke","#eeeeee"));
 g.append("line").attr("x1",o.lineL).attr("x2",o.lineR).attr("y1",y(0)).attr("y2",y(0)).attr("stroke","#666").attr("stroke-width",1.6);
 rug.forEach(v=>g.append("line").attr("x1",x(v)).attr("x2",x(v)).attr("y1",y(0)+o.rug[0]).attr("y2",y(0)+o.rug[1]).attr("stroke","#222").attr("stroke-width",.6));
 o.dash.forEach(d=>g.append("line").attr("x1",o.lineL).attr("x2",o.lineR).attr("y1",y(d[0])).attr("y2",y(d[0])).attr("stroke",d[1]).attr("stroke-width",1.4).attr("stroke-dasharray","2.5 2"));
 g.append("path").attr("d",d3.line().x(d=>x(d[0])).y(d=>y(d[1]))(data)).attr("fill","none").attr("stroke","#33f033").attr("stroke-width",.9);
 o.xt.forEach(v=>txt(x(v),o.xLabY,String(v),{fs:7.5,fill:TXT,anchor:"middle",central:1}));
 o.yt.forEach(v=>txt(o.yLabR,y(v),v===0?"0":d3.format(".1f")(Math.abs(v)),{fs:8.5,fill:TXT,anchor:"end",central:1}));
 txt(o.rank[0],o.rank[1],"Rank",{fs:11.5,anchor:"middle",fill:"#222",central:1});
 txt(o.yT[0],o.yT[1],"Enrichment Score",{fs:o.yTfs,anchor:"middle",rot:-90,fill:"#222",central:1});
 txt(o.tag[0],o.tag[1],o.tag[2],{fs:9.5,anchor:"middle",fill:"#333",central:1});
}
gsea(gseaJ,rugJ,{x0:200,pxK:6.67,y0:749,pxU:119.5,xt:[0,10000,20000],yt:[0,.2,.4,.6],gt:749,gb:838,lineL:192,lineR:392,rug:[-6,6],
 dash:[[-.005,"#ffaaaa"],[.735,"#ff3b3b"]],xLabY:843,yLabR:190,rank:[294,855],yT:[175,796],yTfs:11.2,tag:[364,764,"BRCA"]});
gsea(gseaL,rugL,{x0:596.7,pxK:7.83,y0:831,pxU:-145,xt:[0,5000,10000,15000,20000],yt:[0,.2,.4,.6],gt:743,gb:832,lineL:588,lineR:792,rug:[-6,6],
 dash:[[.605,"#ffaaaa"],[0,"#cc2233"]],xLabY:842.5,yLabR:585,rank:[683,853.5],yT:[569,785],yTfs:10.5,tag:[769,752,"LIHC"]});
</script>
</body></html>
